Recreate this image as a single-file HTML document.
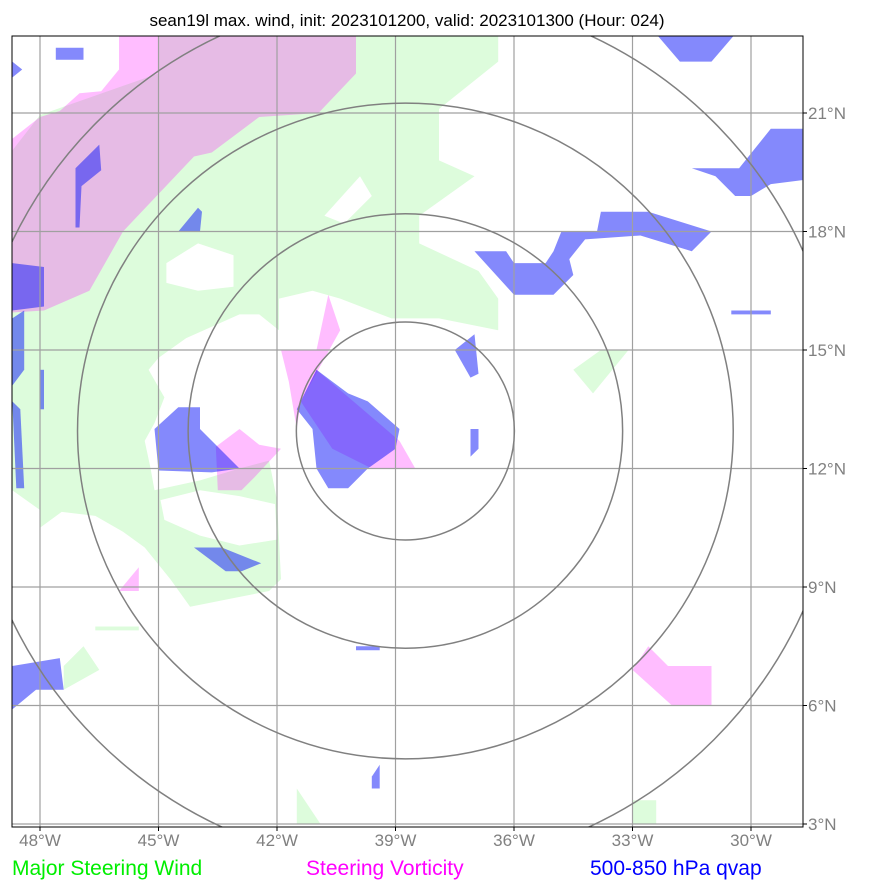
<!DOCTYPE html>
<html><head><meta charset="utf-8">
<style>
html,body{margin:0;padding:0;background:#fff;}
svg{display:block;font-family:"Liberation Sans","DejaVu Sans",sans-serif;}
</style></head>
<body>
<svg id="chart" width="869" height="891" viewBox="0 0 869 891" xmlns="http://www.w3.org/2000/svg">
<defs><clipPath id="plotclip"><rect x="12" y="36" width="791" height="791"/></clipPath></defs>
<text x="407" y="26" text-anchor="middle" font-size="17" fill="#000">sean19l max. wind, init: 2023101200, valid: 2023101300 (Hour: 024)</text>
<g id="plot" clip-path="url(#plotclip)"></g>
<rect x="12" y="36" width="791" height="791" fill="none" stroke="#000" stroke-width="1"/>
<g id="axes"></g>
<text x="12" y="875" font-size="21" fill="#00ee00">Major Steering Wind</text>
<text x="306" y="875" font-size="21" fill="#ff00ff">Steering Vorticity</text>
<text x="590" y="875" font-size="21" fill="#0000ff">500-850 hPa qvap</text>
</svg>
<script>
const lonTicks = [-48, -45, -42, -39, -36, -33, -30];
const latTicks = [3, 6, 9, 12, 15, 18, 21];
const lonTickLabels = ["48°W","45°W","42°W","39°W","36°W","33°W","30°W"];
const latTickLabels = ["3°N","6°N","9°N","12°N","15°N","18°N","21°N"];
const circleCenter = [-38.75, 12.95];
const circleRadii = [2.76, 5.5, 8.3, 11.05];

const greenAreas = [
 [[-48.7,20.05],[-48.0,20.95],[-45.0,22.0],[-45.0,23],[-36.4,23],[-36.4,22.3],[-37.9,21.1],[-37.9,19.8],[-37.0,19.4],[-38.4,18.4],[-38.4,17.7],[-36.9,17.0],[-36.4,16.3],[-36.4,15.5],[-37.9,15.8],[-39.1,15.8],[-40.4,16.3],[-41.1,16.5],[-41.95,16.3],[-41.95,15.5],[-42.45,15.9],[-42.95,15.9],[-44.3,15.3],[-45.0,14.8],[-45.25,14.5],[-44.85,13.8],[-45.1,13.15],[-45.35,12.7],[-45.2,12.0],[-45.1,11.45],[-43.95,11.7],[-42.95,12.0],[-42.2,12.2],[-42.0,11.2],[-41.9,9.2],[-42.2,8.9],[-43.2,8.7],[-44.2,8.5],[-44.7,9.2],[-45.35,10.0],[-45.9,10.4],[-46.6,10.8],[-47.45,10.9],[-48.0,10.5],[-48.0,10.95],[-48.7,11.45]],
 [[-34.5,14.5],[-33.8,15.0],[-33.1,15.0],[-34.0,13.9]],
 [[-47.4,7.0],[-46.9,7.5],[-46.5,6.9],[-47.4,6.4]],
 [[-33.0,3.6],[-32.4,3.6],[-32.4,3.0],[-33.0,3.0]],
 [[-41.5,3.9],[-40.9,3.0],[-41.5,3.0]],
 [[-46.6,8.0],[-45.5,8.0],[-45.5,7.9],[-46.6,7.9]]
];
const whiteHoles = [
 [[-40.8,18.4],[-39.9,19.4],[-39.6,18.9],[-40.3,18.2]],
 [[-44.8,17.2],[-44.0,17.7],[-43.1,17.4],[-43.1,16.6],[-44.0,16.5],[-44.8,16.7]],
 [[-44.95,11.2],[-43.95,11.45],[-42.95,11.3],[-42.05,11.1],[-42.0,10.2],[-42.95,10.05],[-43.95,10.3],[-44.85,10.7]]
];
const vortAreas = [
 [[-48.7,20.35],[-48.0,20.9],[-47.5,21.05],[-47.0,21.5],[-46.45,21.55],[-46.0,22.1],[-46.0,23],[-40.0,23],[-40.0,22.0],[-40.95,21.0],[-42.45,20.9],[-43.65,20.0],[-44.1,19.9],[-45.9,18.0],[-46.75,16.5],[-47.9,16.0],[-48.7,15.95]],
 [[-43.55,12.55],[-42.95,13.0],[-42.45,12.6],[-41.9,12.5],[-42.55,11.8],[-42.9,11.45],[-43.5,11.45]],
 [[-41.9,15.0],[-41.0,15.0],[-40.7,16.4],[-40.4,15.5],[-40.9,14.6],[-41.4,13.7],[-41.5,13.0],[-41.7,14.2]],
 [[-41.0,14.5],[-38.9,12.7],[-38.5,12.0],[-39.6,12.0],[-40.6,12.5],[-41.4,13.7]],
 [[-33.0,6.9],[-32.6,7.5],[-32.1,7.0],[-31.0,7.0],[-31.0,6.0],[-32.0,6.0]],
 [[-46.0,8.9],[-45.5,9.5],[-45.5,8.9]]
];
const qvapAreas = [
 [[-41.0,14.5],[-40.2,13.9],[-39.7,13.7],[-38.9,13.0],[-39.0,12.5],[-39.7,12.0],[-40.2,11.5],[-40.7,11.5],[-41.0,12.0],[-41.1,13.0],[-41.5,13.5]],
 [[-45.1,13.0],[-44.5,13.55],[-43.95,13.55],[-43.95,13.0],[-42.95,12.0],[-43.65,11.9],[-45.0,11.95]],
 [[-37.0,17.5],[-36.2,17.5],[-36.0,17.2],[-35.2,17.2],[-35.0,17.5],[-34.8,18.0],[-33.9,18.0],[-33.8,18.5],[-32.6,18.5],[-31.0,18.0],[-31.5,17.5],[-32.8,17.9],[-34.2,17.8],[-34.6,17.3],[-34.5,16.9],[-35.0,16.4],[-36.0,16.4]],
 [[-31.5,19.6],[-30.3,19.6],[-29.5,20.6],[-28.7,20.6],[-28.7,19.3],[-29.5,19.2],[-30.0,18.9],[-30.4,18.9],[-30.9,19.4]],
 [[-37.5,15.0],[-37.0,15.4],[-36.9,14.4],[-37.1,14.3]],
 [[-37.1,13.0],[-36.9,13.0],[-36.9,12.5],[-37.1,12.3]],
 [[-44.1,10.0],[-43.4,10.0],[-42.4,9.6],[-42.9,9.4],[-43.3,9.4]],
 [[-48.7,7.0],[-47.5,7.2],[-47.4,6.4],[-48.1,6.4],[-48.7,5.9]],
 [[-48.7,17.2],[-47.9,17.1],[-47.9,16.1],[-48.7,16.0]],
 [[-48.7,15.8],[-48.4,16.0],[-48.4,14.5],[-48.7,14.1]],
 [[-48.7,13.7],[-48.5,13.5],[-48.4,11.5],[-48.6,11.5]],
 [[-32.4,23],[-30.4,23],[-31.0,22.3],[-31.8,22.3]],
 [[-47.1,19.6],[-46.5,20.2],[-46.45,19.55],[-46.95,19.15],[-47.0,18.1],[-47.1,18.1]],
 [[-44.5,18.0],[-44.0,18.6],[-43.9,18.5],[-43.95,18.0]],
 [[-40.0,7.5],[-39.4,7.5],[-39.4,7.4],[-40.0,7.4]],
 [[-30.5,16.0],[-29.5,16.0],[-29.5,15.9],[-30.5,15.9]],
 [[-47.6,22.65],[-46.9,22.65],[-46.9,22.35],[-47.6,22.35]],
 [[-48.7,22.3],[-48.45,22.1],[-48.7,21.9]],
 [[-48.0,14.5],[-47.9,14.5],[-47.9,13.5],[-48.0,13.5]],
 [[-39.6,4.2],[-39.4,4.5],[-39.4,3.9],[-39.6,3.9]]
];

const NS = "http://www.w3.org/2000/svg";
const PX = 39.5;
function xOf(lon){ return 40 + (lon + 48) * PX; }
function yOf(lat){ return 113 + (21 - lat) * PX; }
const plot = document.getElementById('plot');
const axes = document.getElementById('axes');
function mk(tag, attrs, parent){
  const e = document.createElementNS(NS, tag);
  for (const k in attrs) e.setAttribute(k, attrs[k]);
  parent.appendChild(e);
  return e;
}
function poly(pts, fill, name){
  const e = mk('polygon', {points: pts.map(p => xOf(p[0]).toFixed(1)+','+yOf(p[1]).toFixed(1)).join(' '), fill: fill}, plot);
  
  
}
greenAreas.forEach(a => poly(a, '#ddfcdc', 'steering-wind-area'));
whiteHoles.forEach(a => poly(a, '#ffffff', 'steering-wind-gap'));
vortAreas.forEach(a => poly(a, 'rgba(255,0,255,0.26)', 'vorticity-area'));
qvapAreas.forEach(a => poly(a, 'rgba(10,20,250,0.5)', 'qvap-area'));

lonTicks.forEach((lon,i) => {
  const x = xOf(lon);
  const l = mk('line', {x1:x, x2:x, y1:36, y2:827, stroke:'#a0a0a0', 'stroke-width':1.2}, plot);
  
  
  const t = mk('line', {x1:x, x2:x, y1:827, y2:831, stroke:'#000', 'stroke-width':1}, axes);
  
  
  const tx = mk('text', {x:x, y:846, 'text-anchor':'middle', 'font-size':17, fill:'#808080'}, axes);
  tx.textContent = lonTickLabels[i];
  
  
});
latTicks.forEach((lat,i) => {
  const y = yOf(lat);
  const l = mk('line', {x1:12, x2:803, y1:y, y2:y, stroke:'#a0a0a0', 'stroke-width':1.2}, plot);
  
  
  const t = mk('line', {x1:803, x2:807, y1:y, y2:y, stroke:'#000', 'stroke-width':1}, axes);
  
  
  const tx = mk('text', {x:808, y:y+6, 'font-size':17, fill:'#808080'}, axes);
  tx.textContent = latTickLabels[i];
  
  
});
circleRadii.forEach(r => {
  const c = mk('circle', {cx:xOf(circleCenter[0]), cy:yOf(circleCenter[1]), r:r*PX, fill:'none', stroke:'#808080', 'stroke-width':1.5}, plot);
  
  
});
</script>
</body></html>
